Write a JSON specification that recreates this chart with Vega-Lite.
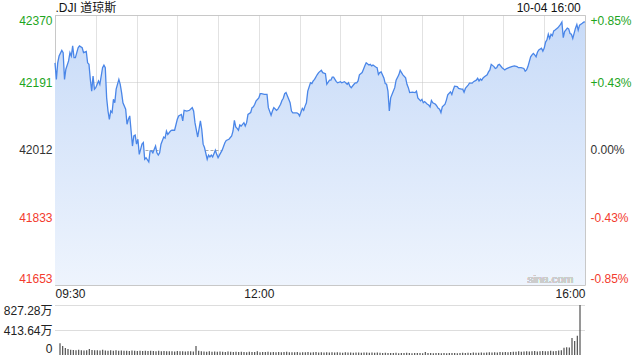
{
"$schema": "https://vega.github.io/schema/vega-lite/v6.json",
"background": "white",
"padding": {"left": 3, "top": 0, "right": 5, "bottom": 5},
"spacing": 4,
"config": {
  "font": "Liberation Sans",
  "view": {"stroke": null},
  "axis": {"labelFont": "Liberation Sans, Noto Sans CJK SC, sans-serif", "labelFontSize": 12, "labelColor": "#333", "ticks": false, "domain": false, "title": null}
},
"datasets": {
"price": [
{"m":0,"p":42243},{"m":1,"p":42199},{"m":2,"p":42243},{"m":3,"p":42261},{"m":5,"p":42276},{"m":6,"p":42270},{"m":7,"p":42199},{"m":8,"p":42226},{"m":10,"p":42248},{"m":11,"p":42270},{"m":12,"p":42261},{"m":13,"p":42288},{"m":14,"p":42257},{"m":15,"p":42257},{"m":17,"p":42283},{"m":18,"p":42288},{"m":20,"p":42283},{"m":21,"p":42270},{"m":23,"p":42273},{"m":24,"p":42243},{"m":25,"p":42239},{"m":26,"p":42199},{"m":27,"p":42168},{"m":28,"p":42208},{"m":29,"p":42173},{"m":30,"p":42177},{"m":32,"p":42195},{"m":33,"p":42186},{"m":35,"p":42230},{"m":36,"p":42237},{"m":37,"p":42230},{"m":38,"p":42150},{"m":39,"p":42115},{"m":40,"p":42093},{"m":41,"p":42115},{"m":42,"p":42111},{"m":43,"p":42146},{"m":44,"p":42137},{"m":45,"p":42173},{"m":47,"p":42199},{"m":48,"p":42186},{"m":49,"p":42164},{"m":50,"p":42137},{"m":52,"p":42120},{"m":53,"p":42080},{"m":54,"p":42093},{"m":55,"p":42102},{"m":56,"p":42062},{"m":57,"p":42022},{"m":58,"p":42049},{"m":59,"p":42051},{"m":60,"p":42027},{"m":61,"p":42040},{"m":62,"p":42000},{"m":63,"p":42013},{"m":64,"p":42027},{"m":65,"p":42031},{"m":66,"p":41987},{"m":67,"p":41991},{"m":69,"p":41980},{"m":70,"p":42009},{"m":71,"p":42009},{"m":72,"p":42004},{"m":74,"p":42022},{"m":75,"p":42004},{"m":76,"p":41998},{"m":77,"p":42004},{"m":78,"p":42027},{"m":80,"p":42046},{"m":81,"p":42043},{"m":82,"p":42062},{"m":83,"p":42053},{"m":85,"p":42062},{"m":86,"p":42064},{"m":88,"p":42064},{"m":90,"p":42093},{"m":91,"p":42102},{"m":93,"p":42106},{"m":94,"p":42089},{"m":95,"p":42117},{"m":97,"p":42115},{"m":99,"p":42117},{"m":101,"p":42124},{"m":102,"p":42115},{"m":103,"p":42084},{"m":105,"p":42046},{"m":107,"p":42089},{"m":108,"p":42066},{"m":109,"p":42027},{"m":110,"p":42018},{"m":112,"p":41987},{"m":113,"p":41998},{"m":114,"p":41993},{"m":115,"p":41998},{"m":116,"p":41993},{"m":118,"p":42011},{"m":119,"p":42000},{"m":120,"p":41991},{"m":121,"p":41998},{"m":123,"p":42011},{"m":125,"p":42031},{"m":126,"p":42037},{"m":128,"p":42040},{"m":130,"p":42049},{"m":131,"p":42062},{"m":132,"p":42090},{"m":133,"p":42073},{"m":134,"p":42069},{"m":135,"p":42064},{"m":136,"p":42078},{"m":137,"p":42075},{"m":139,"p":42084},{"m":140,"p":42075},{"m":141,"p":42084},{"m":142,"p":42106},{"m":144,"p":42111},{"m":145,"p":42124},{"m":146,"p":42126},{"m":147,"p":42133},{"m":148,"p":42142},{"m":150,"p":42150},{"m":151,"p":42161},{"m":152,"p":42161},{"m":154,"p":42159},{"m":156,"p":42159},{"m":157,"p":42124},{"m":159,"p":42104},{"m":160,"p":42115},{"m":161,"p":42124},{"m":163,"p":42117},{"m":164,"p":42120},{"m":166,"p":42133},{"m":167,"p":42143},{"m":168,"p":42149},{"m":169,"p":42161},{"m":170,"p":42164},{"m":172,"p":42146},{"m":173,"p":42137},{"m":174,"p":42115},{"m":175,"p":42110},{"m":178,"p":42110},{"m":179,"p":42108},{"m":180,"p":42102},{"m":182,"p":42122},{"m":183,"p":42117},{"m":184,"p":42128},{"m":185,"p":42137},{"m":186,"p":42168},{"m":188,"p":42190},{"m":189,"p":42188},{"m":190,"p":42195},{"m":191,"p":42199},{"m":193,"p":42212},{"m":194,"p":42217},{"m":196,"p":42223},{"m":197,"p":42217},{"m":199,"p":42214},{"m":200,"p":42186},{"m":202,"p":42197},{"m":203,"p":42197},{"m":204,"p":42205},{"m":205,"p":42205},{"m":207,"p":42193},{"m":208,"p":42190},{"m":210,"p":42193},{"m":211,"p":42190},{"m":213,"p":42193},{"m":215,"p":42186},{"m":216,"p":42190},{"m":217,"p":42181},{"m":218,"p":42177},{"m":220,"p":42186},{"m":221,"p":42190},{"m":222,"p":42190},{"m":223,"p":42195},{"m":224,"p":42211},{"m":226,"p":42217},{"m":227,"p":42226},{"m":228,"p":42235},{"m":229,"p":42243},{"m":231,"p":42237},{"m":232,"p":42239},{"m":233,"p":42235},{"m":234,"p":42237},{"m":236,"p":42232},{"m":237,"p":42230},{"m":238,"p":42212},{"m":239,"p":42217},{"m":240,"p":42219},{"m":242,"p":42203},{"m":243,"p":42188},{"m":244,"p":42186},{"m":245,"p":42168},{"m":246,"p":42115},{"m":247,"p":42150},{"m":249,"p":42168},{"m":250,"p":42177},{"m":251,"p":42197},{"m":253,"p":42211},{"m":254,"p":42223},{"m":255,"p":42217},{"m":256,"p":42211},{"m":258,"p":42203},{"m":259,"p":42186},{"m":260,"p":42177},{"m":261,"p":42164},{"m":263,"p":42165},{"m":265,"p":42164},{"m":266,"p":42168},{"m":267,"p":42150},{"m":269,"p":42142},{"m":270,"p":42146},{"m":271,"p":42137},{"m":272,"p":42140},{"m":274,"p":42133},{"m":275,"p":42131},{"m":276,"p":42126},{"m":277,"p":42143},{"m":278,"p":42137},{"m":280,"p":42133},{"m":281,"p":42128},{"m":282,"p":42122},{"m":283,"p":42120},{"m":284,"p":42111},{"m":285,"p":42126},{"m":287,"p":42133},{"m":288,"p":42144},{"m":289,"p":42158},{"m":291,"p":42166},{"m":292,"p":42159},{"m":293,"p":42171},{"m":294,"p":42181},{"m":296,"p":42180},{"m":297,"p":42175},{"m":299,"p":42173},{"m":300,"p":42173},{"m":301,"p":42165},{"m":302,"p":42175},{"m":304,"p":42184},{"m":305,"p":42189},{"m":307,"p":42189},{"m":308,"p":42193},{"m":310,"p":42197},{"m":311,"p":42202},{"m":312,"p":42195},{"m":313,"p":42200},{"m":314,"p":42197},{"m":315,"p":42203},{"m":316,"p":42206},{"m":318,"p":42211},{"m":319,"p":42219},{"m":320,"p":42224},{"m":321,"p":42239},{"m":323,"p":42233},{"m":324,"p":42228},{"m":325,"p":42230},{"m":326,"p":42237},{"m":327,"p":42239},{"m":329,"p":42230},{"m":331,"p":42224},{"m":332,"p":42227},{"m":334,"p":42230},{"m":336,"p":42233},{"m":338,"p":42235},{"m":340,"p":42233},{"m":341,"p":42230},{"m":343,"p":42230},{"m":345,"p":42228},{"m":346,"p":42221},{"m":347,"p":42224},{"m":348,"p":42233},{"m":350,"p":42259},{"m":351,"p":42264},{"m":352,"p":42268},{"m":353,"p":42264},{"m":354,"p":42259},{"m":355,"p":42271},{"m":356,"p":42277},{"m":358,"p":42282},{"m":359,"p":42274},{"m":360,"p":42282},{"m":361,"p":42298},{"m":362,"p":42304},{"m":363,"p":42319},{"m":364,"p":42308},{"m":365,"p":42319},{"m":366,"p":42315},{"m":367,"p":42328},{"m":368,"p":42330},{"m":370,"p":42336},{"m":372,"p":42345},{"m":373,"p":42351},{"m":374,"p":42310},{"m":375,"p":42326},{"m":377,"p":42335},{"m":378,"p":42333},{"m":379,"p":42321},{"m":380,"p":42319},{"m":381,"p":42308},{"m":383,"p":42335},{"m":384,"p":42345},{"m":385,"p":42330},{"m":386,"p":42343},{"m":388,"p":42348},{"m":389,"p":42351},{"m":390,"p":42352}
],
"vol": [
{"m":0,"v":195},{"m":2,"v":150},{"m":4,"v":115},{"m":6,"v":100},{"m":8,"v":85},{"m":10,"v":82},{"m":12,"v":80},{"m":14,"v":85},{"m":16,"v":78},{"m":18,"v":75},{"m":20,"v":80},
{"m":22,"v":100},{"m":24,"v":82},{"m":26,"v":78},{"m":28,"v":80},{"m":30,"v":76},{"m":32,"v":85},{"m":34,"v":75},{"m":36,"v":72},{"m":38,"v":80},{"m":40,"v":70},
{"m":42,"v":78},{"m":44,"v":72},{"m":46,"v":75},{"m":48,"v":70},{"m":50,"v":72},{"m":52,"v":68},{"m":54,"v":74},{"m":56,"v":70},{"m":58,"v":66},{"m":60,"v":72},
{"m":62,"v":68},{"m":64,"v":70},{"m":66,"v":65},{"m":68,"v":72},{"m":70,"v":66},{"m":72,"v":64},{"m":74,"v":70},{"m":76,"v":62},{"m":78,"v":66},{"m":80,"v":60},
{"m":82,"v":64},{"m":84,"v":62},{"m":86,"v":58},{"m":88,"v":66},{"m":90,"v":60},{"m":92,"v":62},{"m":94,"v":58},{"m":96,"v":64},{"m":98,"v":60},{"m":100,"v":56},
{"m":102,"v":150},{"m":104,"v":70},{"m":106,"v":62},{"m":108,"v":58},{"m":110,"v":55},{"m":112,"v":60},{"m":114,"v":54},{"m":116,"v":58},{"m":118,"v":52},{"m":120,"v":56},
{"m":122,"v":54},{"m":124,"v":50},{"m":126,"v":58},{"m":128,"v":52},{"m":130,"v":50},{"m":132,"v":55},{"m":134,"v":48},{"m":136,"v":52},{"m":138,"v":50},{"m":140,"v":46},
{"m":142,"v":52},{"m":144,"v":48},{"m":146,"v":50},{"m":148,"v":62},{"m":150,"v":46},{"m":152,"v":50},{"m":154,"v":48},{"m":156,"v":52},{"m":158,"v":45},{"m":160,"v":48},
{"m":162,"v":46},{"m":164,"v":50},{"m":166,"v":44},{"m":168,"v":48},{"m":170,"v":52},{"m":172,"v":45},{"m":174,"v":47},{"m":176,"v":44},{"m":178,"v":50},{"m":180,"v":42},
{"m":182,"v":46},{"m":184,"v":44},{"m":186,"v":48},{"m":188,"v":42},{"m":190,"v":45},{"m":192,"v":50},{"m":194,"v":43},{"m":196,"v":46},{"m":198,"v":40},{"m":200,"v":44},
{"m":202,"v":42},{"m":204,"v":45},{"m":206,"v":40},{"m":208,"v":44},{"m":210,"v":42},{"m":212,"v":38},{"m":214,"v":45},{"m":216,"v":40},{"m":218,"v":42},{"m":220,"v":38},
{"m":222,"v":40},{"m":224,"v":43},{"m":226,"v":38},{"m":228,"v":42},{"m":230,"v":40},{"m":232,"v":36},{"m":234,"v":40},{"m":236,"v":38},{"m":238,"v":42},{"m":240,"v":36},
{"m":242,"v":34},{"m":244,"v":36},{"m":246,"v":32},{"m":248,"v":35},{"m":250,"v":33},{"m":252,"v":36},{"m":254,"v":31},{"m":256,"v":34},{"m":258,"v":32},{"m":260,"v":36},
{"m":262,"v":33},{"m":264,"v":31},{"m":266,"v":35},{"m":268,"v":32},{"m":270,"v":34},{"m":272,"v":30},{"m":274,"v":48},{"m":276,"v":32},{"m":278,"v":34},{"m":280,"v":31},
{"m":282,"v":33},{"m":284,"v":32},{"m":286,"v":30},{"m":288,"v":34},{"m":290,"v":31},{"m":292,"v":33},{"m":294,"v":32},{"m":296,"v":35},{"m":298,"v":31},{"m":300,"v":34},
{"m":302,"v":36},{"m":304,"v":33},{"m":306,"v":38},{"m":308,"v":34},{"m":310,"v":40},{"m":312,"v":36},{"m":314,"v":38},{"m":316,"v":41},{"m":318,"v":36},{"m":320,"v":42},
{"m":322,"v":44},{"m":324,"v":40},{"m":326,"v":46},{"m":328,"v":42},{"m":330,"v":48},{"m":332,"v":44},{"m":334,"v":50},{"m":336,"v":46},{"m":338,"v":48},{"m":340,"v":54},
{"m":342,"v":55},{"m":344,"v":60},{"m":346,"v":52},{"m":348,"v":58},{"m":350,"v":62},{"m":352,"v":56},{"m":354,"v":60},{"m":356,"v":65},{"m":358,"v":58},{"m":360,"v":62},
{"m":362,"v":66},{"m":364,"v":60},{"m":366,"v":64},{"m":368,"v":70},{"m":370,"v":62},{"m":372,"v":68},{"m":374,"v":75},{"m":376,"v":80},{"m":378,"v":120},{"m":380,"v":130},
{"m":382,"v":125},{"m":384,"v":280},{"m":386,"v":230},{"m":388,"v":320},{"m":390,"v":827.28}
]
},
"vconcat": [
{
  "width": 530,
  "height": 270,
  "view": {"stroke": "#cccccc", "strokeWidth": 1},
  "data": {"name": "price"},
  "layer": [
    {
      "mark": {"type": "area", "color": {"gradient": "linear", "x1": 0, "y1": 0, "x2": 0, "y2": 1, "stops": [{"offset": 0, "color": "#c8dbf8"}, {"offset": 1, "color": "#eef4fd"}]}},
      "encoding": {
        "x": {"field": "m", "type": "quantitative", "scale": {"domain": [0, 390], "nice": false, "zero": false},
          "axis": {"orient": "bottom", "values": [0,30,60,90,120,150,180,210,240,270,300,330,360,390], "labelFlush": true, "labelPadding": 3, "labelColor": "#222",
            "labelExpr": "datum.value == 0 ? '09:30' : datum.value == 150 ? '12:00' : datum.value == 390 ? '16:00' : ''",
            "grid": true, "gridColor": "#c4c4c4", "gridDash": [1, 1]}},
        "y": {"field": "p", "type": "quantitative", "scale": {"domain": [41653, 42370], "nice": false, "zero": false},
          "axis": {"orient": "left", "values": [41653, 41833, 42012, 42191, 42370], "format": "d", "labelFlush": true, "labelPadding": 3,
            "labelColor": {"condition": [{"test": "datum.value > 42013", "value": "#1ea51e"}, {"test": "datum.value < 42011", "value": "#f33b2e"}], "value": "#333333"},
            "grid": true,
            "gridColor": {"condition": {"test": "datum.value == 42012", "value": "#aaaaaa"}, "value": "#c4c4c4"},
            "gridDash": {"condition": {"test": "datum.value == 42012", "value": [3, 2]}, "value": [1, 1]}}},
        "y2": {"datum": 41653}
      }
    },
    {
      "mark": {"type": "line", "color": "#4a86e8", "strokeWidth": 1.3},
      "encoding": {
        "x": {"field": "m", "type": "quantitative",
          "axis": {"orient": "top", "values": [0, 386.5], "grid": false, "labelFlush": false, "labelPadding": 1, "labelColor": "#111",
            "labelAlign": {"condition": {"test": "datum.value == 0", "value": "left"}, "value": "right"},
            "labelExpr": "datum.value == 0 ? '.DJI 道琼斯' : '10-04 16:00'"}},
        "y": {"field": "p", "type": "quantitative",
          "axis": {"orient": "right", "values": [41653, 41833, 42012, 42191, 42370], "labelFlush": true, "labelPadding": 5, "grid": false,
            "labelColor": {"condition": [{"test": "datum.value > 42013", "value": "#1ea51e"}, {"test": "datum.value < 42011", "value": "#f33b2e"}], "value": "#333333"},
            "labelExpr": "datum.value > 42013 ? '+' + format((datum.value - 42012) / 42012 * 100, '.2f') + '%' : datum.value < 42011 ? '-' + format((42012 - datum.value) / 42012 * 100, '.2f') + '%' : '0.00%'"}}
      }
    },
    {
      "mark": {"type": "text", "align": "right", "baseline": "alphabetic", "dy": -2, "fontSize": 11.5, "color": "#cccccc", "font": "Liberation Sans"},
      "encoding": {
        "x": {"datum": 381.5, "axis": null},
        "y": {"datum": 41653, "axis": null},
        "text": {"value": "sina.com"}
      }
    }
  ],
  "resolve": {"axis": {"x": "independent", "y": "independent"}}
},
{
  "width": 530,
  "height": 50,
  "data": {"name": "vol"},
  "mark": {"type": "bar", "width": 1.2, "color": "#505050"},
  "encoding": {
    "x": {"field": "m", "type": "quantitative", "scale": {"domain": [0, 390], "nice": false, "zero": false}, "axis": null},
    "y": {"field": "v", "type": "quantitative", "scale": {"domain": [0, 827.28], "nice": false},
      "axis": {"orient": "left", "values": [0, 413.64, 827.28], "labelFlush": true, "labelPadding": 3, "labelColor": "#222",
        "labelExpr": "datum.value == 0 ? '0' : format(datum.value, '.2f') + '万'",
        "grid": true, "gridColor": "#bbbbbb", "gridDash": [1, 1],
        "gridOpacity": {"condition": {"test": "datum.value == 0", "value": 0}, "value": 1}}}
  }
}
]
}
